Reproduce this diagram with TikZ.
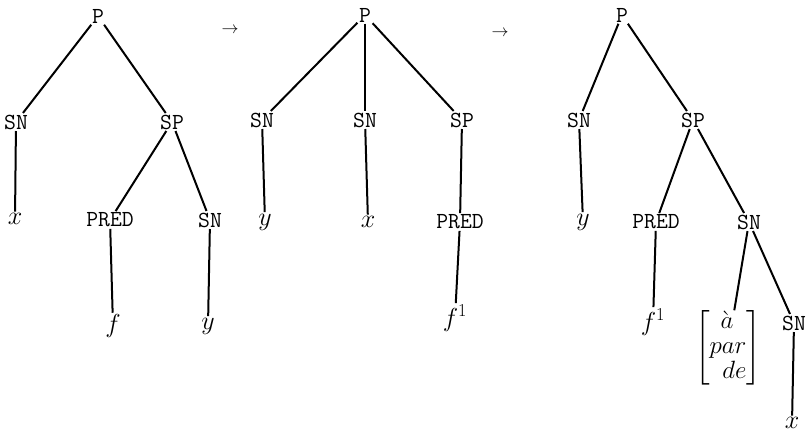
\documentclass[tikz,border=0pt]{standalone}
\usepackage{fix-cm}
\usepackage{amsmath}
\usepackage{tikz}

\begin{document}
\begin{tikzpicture}[
	x=1pt, y=-1pt,
	every node/.style={inner sep=1.5pt},
	cat/.style={font=\fontsize{23}{26}\selectfont\ttfamily},
	leaf/.style={font=\fontsize{26}{30}\selectfont},
	step arrow/.style={font=\fontsize{17}{20}\selectfont},
	branch/.style={line width=2pt}
	]
	\useasboundingbox (0,0) rectangle (810,434);

	% first tree
	\node[cat] (p1) at (98,16) {P};
	\node[cat] (sn1) at (16,122) {SN};
	\node[cat] (sp1) at (172,122) {SP};
	\node[leaf] (x1) at (15,219) {$x$};
	\node[cat] (pred1) at (110,220) {PRED};
	\node[cat] (sn1b) at (210,220) {SN};
	\node[leaf] (f1) at (113,326) {$f$};
	\node[leaf] (y1) at (208,326) {$y$};

	\draw[branch] (p1) -- (sn1);
	\draw[branch] (p1) -- (sp1);
	\draw[branch] (sn1) -- (x1);
	\draw[branch] (sp1) -- (pred1);
	\draw[branch] (sp1) -- (sn1b);
	\draw[branch] (pred1) -- (f1);
	\draw[branch] (sn1b) -- (y1);

	\node[step arrow] (a1) at (230,30) {$\rightarrow$};

	% second tree
	\node[cat] (p2) at (365,15) {P};
	\node[cat] (sn2) at (262,120) {SN};
	\node[cat] (sn2b) at (365,120) {SN};
	\node[cat] (sp2) at (462,120) {SP};
	\node[leaf] (y2) at (265,222) {$y$};
	\node[leaf] (x2) at (368,222) {$x$};
	\node[cat] (pred2) at (460,222) {PRED};
	\node[leaf] (f2) at (455,318) {$f^{1}$};

	\draw[branch] (p2) -- (sn2);
	\draw[branch] (p2) -- (sn2b);
	\draw[branch] (p2) -- (sp2);
	\draw[branch] (sn2) -- (y2);
	\draw[branch] (sn2b) -- (x2);
	\draw[branch] (sp2) -- (pred2);
	\draw[branch] (pred2) -- (f2);

	\node[step arrow] (a2) at (500,33) {$\rightarrow$};

	% third tree
	\node[cat] (p3) at (622,15) {P};
	\node[cat] (sn3) at (579,120) {SN};
	\node[cat] (sp3) at (693,120) {SP};
	\node[leaf] (y3) at (583,222) {$y$};
	\node[cat] (pred3) at (656,222) {PRED};
	\node[cat] (sn3b) at (749,222) {SN};
	\node[leaf] (f3) at (653,322) {$f^{1}$};
	\node[font=\fontsize{25}{25}\selectfont, inner sep=0pt] (prep3) at (728,348)
		{$\left[\begin{array}{@{}r@{}}\grave{a}\hspace{13pt}\\ par\\ de\end{array}\right]$};
	\node[cat] (sn3c) at (794,323) {SN};
	\node[leaf] (x3) at (792,423) {$x$};

	\draw[branch] (p3) -- (sn3);
	\draw[branch] (p3) -- (sp3);
	\draw[branch] (sn3) -- (y3);
	\draw[branch] (sp3) -- (pred3);
	\draw[branch] (sp3) -- (sn3b);
	\draw[branch] (pred3) -- (f3);
	\draw[branch] (sn3b) -- (prep3);
	\draw[branch] (sn3b) -- (sn3c);
	\draw[branch] (sn3c) -- (x3);

\end{tikzpicture}
\end{document}
